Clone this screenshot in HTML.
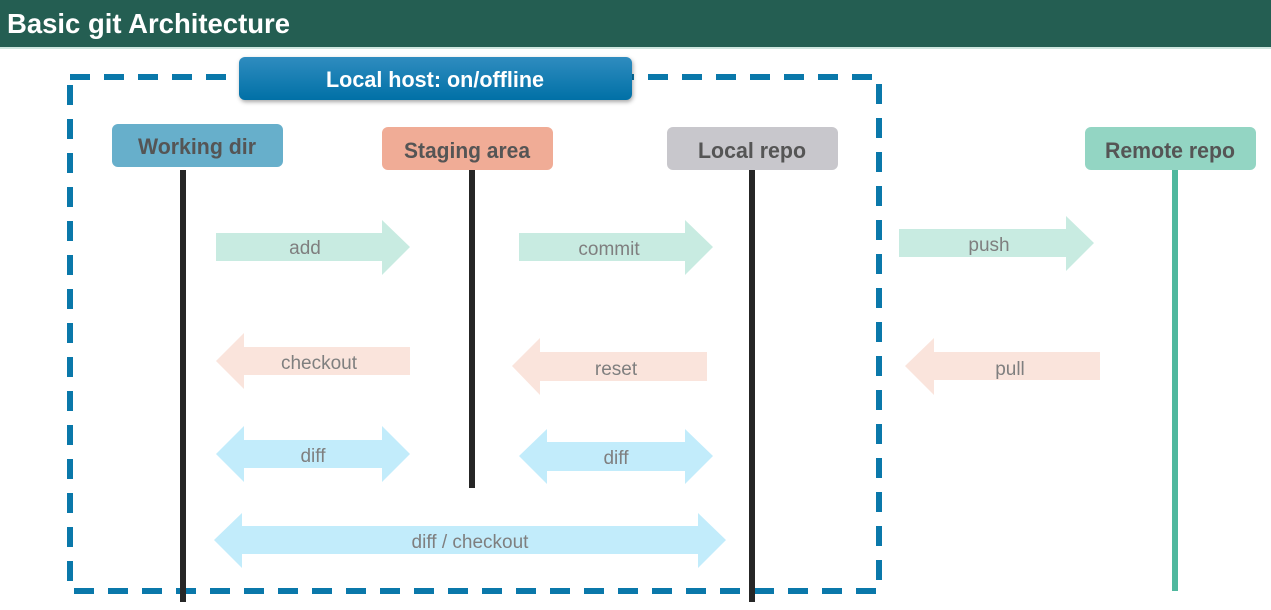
<!DOCTYPE html>
<html><head><meta charset="utf-8"><style>
html,body{margin:0;padding:0;background:#fff;}
svg{display:block}
</style></head><body>
<svg width="1271" height="610" viewBox="0 0 1271 610" xmlns="http://www.w3.org/2000/svg" font-family="Liberation Sans, Arial, sans-serif">
<defs>
<linearGradient id="bl" x1="0" y1="0" x2="0" y2="1"><stop offset="0" stop-color="#2f8cbf"/><stop offset="1" stop-color="#0070a6"/></linearGradient>
</defs>
<rect x="0" y="0" width="1271" height="47" fill="#245e52"/>
<rect x="0" y="47" width="1271" height="2" fill="#cfe6df"/>
<text x="7" y="33" fill="#fff" font-size="28" font-weight="bold" textLength="283" lengthAdjust="spacingAndGlyphs">Basic git Architecture</text>

<rect x="70" y="77" width="809" height="514" fill="none" stroke="#0a78aa" stroke-width="6" stroke-dasharray="20 14"/>

<rect x="180" y="170" width="6" height="432" fill="#262626"/>
<rect x="469" y="170" width="6" height="318" fill="#262626"/>
<rect x="749" y="170" width="6" height="432" fill="#262626"/>
<rect x="1172" y="170" width="6" height="421" fill="#4fb89e"/>

<rect x="239" y="57" width="393" height="43" rx="6" fill="url(#bl)" style="filter:drop-shadow(1px 2px 2px rgba(0,0,0,.35))"/>
<text x="435" y="87" fill="#fff" font-size="22" font-weight="bold" text-anchor="middle" textLength="218" lengthAdjust="spacingAndGlyphs">Local host: on/offline</text>

<g font-size="22" font-weight="bold" fill="#555" text-anchor="middle">
<rect x="112" y="124" width="171" height="43" rx="6" fill="#67afcb"/>
<text x="197" y="154" textLength="118" lengthAdjust="spacingAndGlyphs">Working dir</text>
<rect x="382" y="127" width="171" height="43" rx="6" fill="#f0ac96"/>
<text x="467" y="158" textLength="126" lengthAdjust="spacingAndGlyphs">Staging area</text>
<rect x="667" y="127" width="171" height="43" rx="6" fill="#c8c7cc"/>
<text x="752" y="158" textLength="108" lengthAdjust="spacingAndGlyphs">Local repo</text>
<rect x="1085" y="127" width="171" height="43" rx="6" fill="#93d5c3"/>
<text x="1170" y="158" textLength="130" lengthAdjust="spacingAndGlyphs">Remote repo</text>
</g>

<g font-size="19" fill="#7f7f7f" text-anchor="middle">
<polygon points="216,233 382,233 382,220 410,247 382,275 382,261 216,261" fill="#c8ebe1"/>
<text x="305" y="254">add</text>
<polygon points="519,233 685,233 685,220 713,247 685,275 685,261 519,261" fill="#c8ebe1"/>
<text x="609" y="255">commit</text>
<polygon points="899,229 1066,229 1066,216 1094,243 1066,271 1066,257 899,257" fill="#c8ebe1"/>
<text x="989" y="251">push</text>
<polygon points="216,361 244,333 244,347 410,347 410,375 244,375 244,389" fill="#fae4dc"/>
<text x="319" y="369">checkout</text>
<polygon points="512,366 540,338 540,352 707,352 707,381 540,381 540,395" fill="#fae4dc"/>
<text x="616" y="375">reset</text>
<polygon points="905,366 934,338 934,352 1100,352 1100,380 934,380 934,395" fill="#fae4dc"/>
<text x="1010" y="375">pull</text>
<polygon points="216,454 244,426 244,440 382,440 382,426 410,454 382,482 382,468 244,468 244,482" fill="#c2ecfb"/>
<text x="313" y="462">diff</text>
<polygon points="519,456 547,429 547,442 685,442 685,429 713,456 685,484 685,471 547,471 547,484" fill="#c2ecfb"/>
<text x="616" y="464">diff</text>
<polygon points="214,540 242,513 242,526 698,526 698,513 726,540 698,568 698,554 242,554 242,568" fill="#c2ecfb"/>
<text x="470" y="548">diff / checkout</text>
</g>
</svg>
</body></html>
